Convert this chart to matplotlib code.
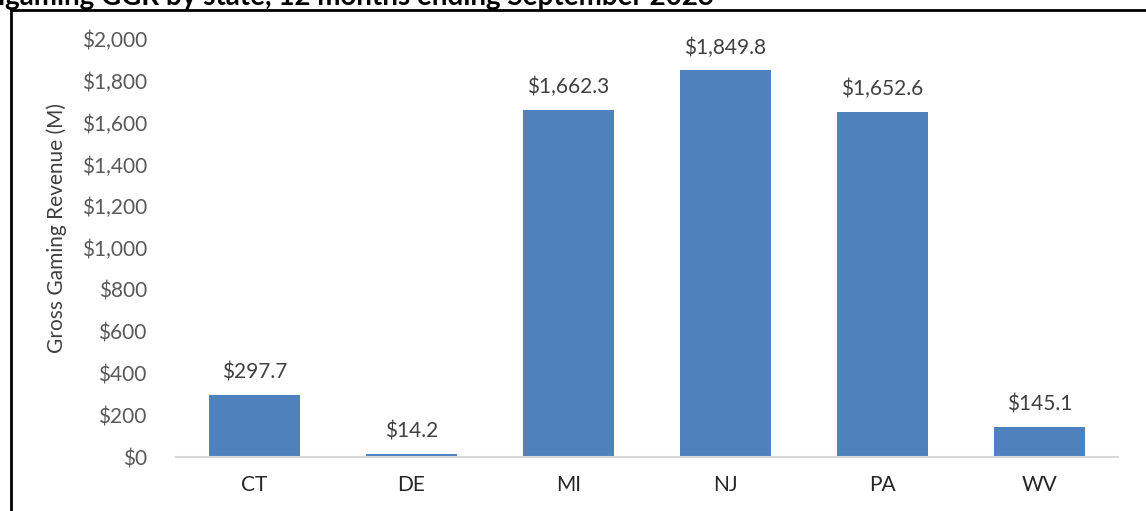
import matplotlib
matplotlib.use("Agg")
import matplotlib.pyplot as plt
from matplotlib.lines import Line2D
from matplotlib.ticker import FuncFormatter

states = ["CT", "DE", "MI", "NJ", "PA", "WV"]
ggr = [297.7, 14.2, 1662.3, 1849.8, 1652.6, 145.1]
yticks = [0, 200, 400, 600, 800, 1000, 1200, 1400, 1600, 1800, 2000]
title = "igaming GGR by state, 12 months ending September 2023"
ylabel = "Gross Gaming Revenue (M)"

plt.rcParams['font.family'] = ['Lato', 'DejaVu Sans']

W, H = 1146, 511
FS = 15
fig = plt.figure(figsize=(W / 100, H / 100), dpi=100)
ax = fig.add_axes([176 / W, 1 - 457 / H, (1118 - 176) / W, (457 - 39) / H])

x = range(len(states))
ax.bar(x, ggr, width=0.575, color="#4F81BD", zorder=2)
ax.set_xlim(-0.5, len(states) - 0.5)
ax.set_ylim(0, 2000)
ax.set_yticks(yticks)
ax.yaxis.set_major_formatter(FuncFormatter(lambda v, p: f"${v:,.0f}"))
ax.set_xticks(list(x))
ax.set_xticklabels(states)

for s in ["left", "right", "top"]:
    ax.spines[s].set_visible(False)
ax.spines["bottom"].set_color("#D9D9D9")
ax.spines["bottom"].set_linewidth(1.5)
ax.tick_params(axis="y", length=0, pad=21, labelsize=FS, labelcolor="#595959")
ax.tick_params(axis="x", length=0, pad=13, labelsize=FS, labelcolor="#262626")

for i, v in enumerate(ggr):
    ax.annotate(f"${v:,.1f}", (i, v), xytext=(0, 9), textcoords="offset points",
                ha="center", va="bottom", fontsize=FS, color="#404040")

fig.text(57 / W, 1 - 228 / H, ylabel, rotation=90, ha="center", va="center",
         fontsize=FS, color="#404040")
fig.text(-2 / W, 1 - 5 / H, title, ha="left", va="baseline", fontsize=20,
         fontweight="bold", color="black")

fig.add_artist(Line2D([11 / W, 11 / W], [0, 1 - 10 / H], color="black", lw=2,
                      transform=fig.transFigure))
fig.add_artist(Line2D([11 / W, 1], [1 - 10 / H, 1 - 10 / H], color="black", lw=2,
                      transform=fig.transFigure))

fig.savefig("out.png", dpi=100)
